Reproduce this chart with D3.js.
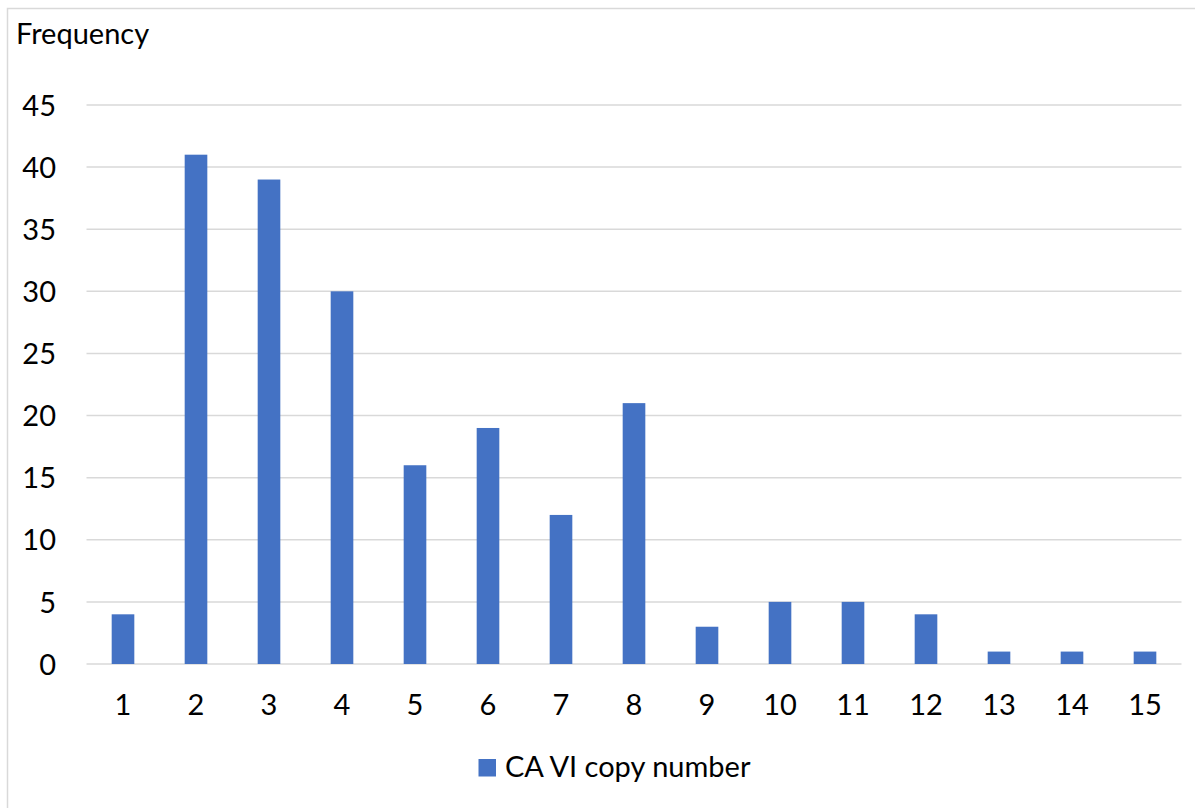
<!DOCTYPE html>
<html>
<head>
<meta charset="utf-8">
<script src="https://cdn.jsdelivr.net/npm/d3@7"></script>
<style>
  html, body { margin: 0; padding: 0; background: #fff; }
  svg { display: block; }
  text { font-family: Lato, "Open Sans", sans-serif; fill: #000; }
</style>
</head>
<body>
<svg id="chart" width="1195" height="808"></svg>
<script>
// CA VI copy number distribution
const copyNumbers = ["1","2","3","4","5","6","7","8","9","10","11","12","13","14","15"];
const frequency   = [4, 41, 39, 30, 16, 19, 12, 21, 3, 5, 5, 4, 1, 1, 1];
const yTicks      = [0, 5, 10, 15, 20, 25, 30, 35, 40, 45];
const seriesName  = "CA VI copy number";
const yTitle      = "Frequency";

const W = 1195, H = 808;
const plot = { left: 86.5, right: 1181.5, top: 105, bottom: 664 };
const barColor = "#4472C4";
const gridColor = "#D9D9D9";
const fontSize = "29px";

const svg = d3.select("#chart");

// chart area frame
svg.append("rect")
  .attr("x", 7.5).attr("y", 8.5)
  .attr("width", W + 10).attr("height", H + 10)
  .attr("fill", "#fff").attr("stroke", gridColor).attr("stroke-width", 1.5);

const x = d3.scaleBand()
  .domain(copyNumbers)
  .range([plot.left, plot.right])
  .paddingInner(0.69).paddingOuter(0.345);

const y = d3.scaleLinear()
  .domain([0, 45])
  .range([plot.bottom, plot.top]);

// horizontal gridlines
svg.append("g")
  .selectAll("line")
  .data(yTicks)
  .join("line")
  .attr("x1", plot.left).attr("x2", plot.right)
  .attr("y1", d => y(d)).attr("y2", d => y(d))
  .attr("stroke", gridColor).attr("stroke-width", 1.5);

// bars
svg.append("g")
  .selectAll("rect")
  .data(frequency)
  .join("rect")
  .attr("x", (d, i) => x(copyNumbers[i]))
  .attr("width", x.bandwidth())
  .attr("y", d => y(d))
  .attr("height", d => y(0) - y(d))
  .attr("fill", barColor);

// y axis labels
const yAxis = d3.axisLeft(y).tickValues(yTicks).tickSize(0).tickPadding(0);
const gy = svg.append("g")
  .attr("transform", `translate(56,0)`)
  .call(yAxis);
gy.select(".domain").remove();
gy.selectAll("text")
  .style("font-family", "Lato, 'Open Sans', sans-serif")
  .style("font-size", fontSize)
  .attr("fill", "#000")
  .attr("dy", "0.35em");

// x axis labels
const xAxis = d3.axisBottom(x).tickSize(0).tickPadding(0);
const gx = svg.append("g")
  .attr("transform", `translate(0,${plot.bottom})`)
  .call(xAxis);
gx.select(".domain").remove();
gx.selectAll("text")
  .style("font-family", "Lato, 'Open Sans', sans-serif")
  .style("font-size", fontSize)
  .attr("fill", "#000")
  .attr("dy", null)
  .attr("y", 51);

// axis title
svg.append("text")
  .attr("x", 16).attr("y", 44)
  .style("font-size", fontSize)
  .text(yTitle);

// legend
const legend = svg.append("g");
legend.append("rect")
  .attr("x", 478.5).attr("y", 759)
  .attr("width", 17.5).attr("height", 17.5)
  .attr("fill", barColor);
legend.append("text")
  .attr("x", 505).attr("y", 777)
  .style("font-size", fontSize)
  .text(seriesName);
</script>
</body>
</html>
